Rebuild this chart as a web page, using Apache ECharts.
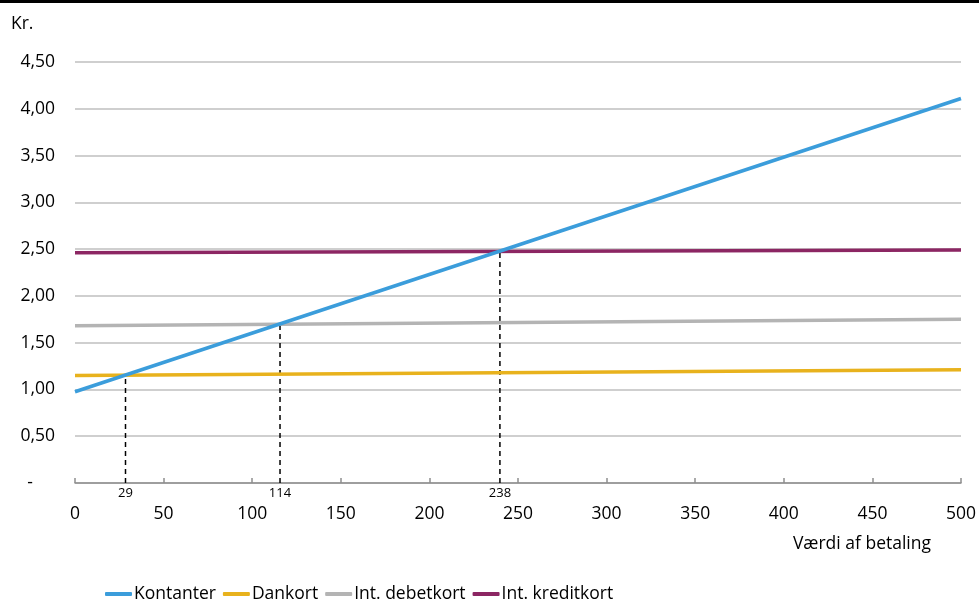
<!DOCTYPE html>
<html><head><meta charset="utf-8">
<script src="https://cdn.jsdelivr.net/npm/echarts@6/dist/echarts.min.js"></script>
<style>html,body{margin:0;padding:0;background:#fff}#c{width:979px;height:599px}</style>
</head><body><div id="c"></div>
<script>
const xValues = [0, 500];
const kontanter = [0.975, 4.11];
const dankort = [1.15, 1.21];
const debetkort = [1.68, 1.75];
const kreditkort = [2.46, 2.49];
const breakLabels = ['29', '114', '238'];
const breakX = [28.5, 115.7, 239.8];
const breakY = [1.154, 1.70, 2.48];
const seriesNames = ['Kontanter', 'Dankort', 'Int. debetkort', 'Int. kreditkort'];
const colors = ['#3b9ddb', '#e8b21d', '#b4b4b4', '#8c2663'];

const font = '"Open Sans", "Noto Sans", sans-serif';
const fs = 17.5;
const lineData = [kontanter, dankort, debetkort, kreditkort];
const series = lineData.map((d, i) => ({
  name: seriesNames[i], type: 'line', symbol: 'none', silent: true,
  data: xValues.map((x, j) => [x, d[j]]),
  lineStyle: {width: 3.5, color: colors[i]}, itemStyle: {color: colors[i]},
  z: 3 + (i === 0 ? 1 : 0)
}));
breakX.forEach((x, i) => {
  series.push({
    name: 'break' + i, type: 'line', symbol: 'circle', symbolSize: 0.01, showSymbol: true, silent: true, z: 2,
    itemStyle: {color: '#000'},
    data: [{value: [x, 0], label: {show: true, formatter: breakLabels[i], position: 'bottom', distance: 4, fontSize: 13, color: '#000', fontFamily: font}}, {value: [x, breakY[i]]}],
    lineStyle: {width: 1.5, color: '#000', type: [5, 4]}
  });
});

const chart = echarts.init(document.getElementById('c'));
chart.setOption({
  animation: false,
  textStyle: {fontFamily: font},
  grid: {left: 75, right: 18, top: 62, bottom: 116, containLabel: false},
  legend: {
    data: seriesNames, left: 100, top: 580, icon: 'roundRect', itemWidth: 27, itemHeight: 4, itemGap: 7,
    textStyle: {fontSize: fs, color: '#000', fontFamily: font, padding: [0, 0, 0, -3]}
  },
  xAxis: {
    type: 'value', min: 0, max: 500, interval: 50,
    axisLine: {lineStyle: {color: '#8f8f8f', width: 1.5}},
    axisTick: {inside: true, length: 5, lineStyle: {color: '#8f8f8f', width: 1.5}},
    axisLabel: {fontSize: fs, color: '#000', margin: 22, fontFamily: font},
    splitLine: {show: false}
  },
  yAxis: {
    type: 'value', min: 0, max: 4.5, interval: 0.5,
    axisLine: {show: false}, axisTick: {show: false},
    axisLabel: {
      fontSize: fs, color: '#000', margin: 20, fontFamily: font,
      formatter: v => v === 0 ? '{d|-}' : v.toFixed(2).replace('.', ','),
      rich: {d: {fontSize: fs, color: '#000', padding: [0, 22, 0, 0], fontFamily: font}}
    },
    splitLine: {lineStyle: {color: '#bfbfbf', width: 1.5}}
  },
  graphic: [
    {type: 'rect', shape: {x: 0, y: 0, width: 979, height: 3}, style: {fill: '#000'}},
    {type: 'text', left: 11, top: 15, style: {text: 'Kr.', fontSize: fs, fill: '#000', fontFamily: font}},
    {type: 'text', right: 48, top: 535, style: {text: 'Værdi af betaling', fontSize: fs, fill: '#000', fontFamily: font}}
  ],
  series: series
});
</script></body></html>
